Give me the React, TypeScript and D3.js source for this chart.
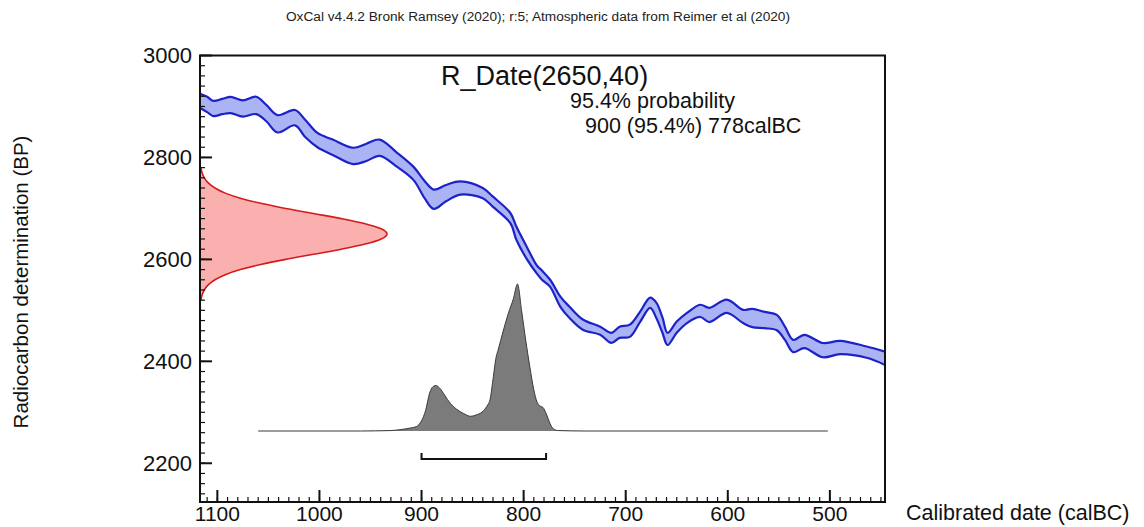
import React from 'react';
import * as d3 from 'd3';

// calibration curve (IntCal20): calBC, mean BP, 1 sigma
const curveYears = [1117, 1110, 1104, 1095, 1087, 1075, 1062, 1052, 1041, 1024, 1014, 1002, 987, 967, 954, 941, 925, 908, 897, 888, 876, 862, 840, 830, 813, 807, 797, 787, 782, 774, 764, 755, 742, 725, 714, 706, 696, 686, 676, 670, 664, 659, 650, 640, 627, 618, 601, 585, 576, 564, 552, 544, 536, 525, 507, 490, 464, 446];
const curveMean = [2911, 2904, 2896, 2900, 2903, 2896, 2902, 2887, 2866, 2878, 2857, 2834, 2820, 2803, 2810, 2819, 2797, 2769, 2737, 2718, 2730, 2740, 2730, 2713, 2681, 2651, 2613, 2580, 2569, 2553, 2517, 2496, 2472, 2460, 2446, 2457, 2460, 2487, 2515, 2500, 2471, 2444, 2467, 2485, 2499, 2491, 2508, 2488, 2485, 2481, 2476, 2455, 2430, 2439, 2422, 2427, 2418, 2406];
const curveSigma = [14, 15, 15, 15, 16, 16, 17, 16, 17, 15, 17, 14, 15, 16, 17, 16, 14, 13, 17, 19, 16, 13, 10, 10, 10, 13, 12, 8, 9, 7, 10, 11, 10, 8, 10, 11, 12, 10, 10, 15, 15, 12, 11, 10, 12, 14, 13, 13, 18, 16, 15, 13, 12, 13, 14, 13, 11, 13];

// radiocarbon date R_Date(2650,40): BP and relative likelihood
const rDateBP = [2780, 2770, 2760, 2750, 2740, 2730, 2720, 2710, 2700, 2690, 2680, 2670, 2660, 2650, 2640, 2630, 2620, 2610, 2600, 2590, 2580, 2570, 2560, 2550, 2540, 2530, 2520];
const rDateDensity = [0.005, 0.011, 0.023, 0.044, 0.08, 0.135, 0.216, 0.325, 0.458, 0.607, 0.755, 0.883, 0.969, 1, 0.969, 0.883, 0.755, 0.607, 0.458, 0.325, 0.216, 0.135, 0.08, 0.044, 0.023, 0.011, 0.005];

// calibrated probability distribution (relative)
const probYears = [1060, 960, 930, 920, 911, 905, 900, 896, 892, 889, 886, 882, 877, 872, 866, 859, 852, 846, 839, 835, 833, 830, 827, 825, 820, 815, 810, 806, 802, 798, 794, 790, 787, 784, 781, 778, 774, 771, 766, 740, 502];
const probValues = [0, 0, 0.003, 0.01, 0.02, 0.03, 0.07, 0.14, 0.26, 0.3, 0.31, 0.29, 0.24, 0.19, 0.15, 0.12, 0.1, 0.11, 0.14, 0.18, 0.21, 0.35, 0.5, 0.55, 0.68, 0.8, 0.9, 1, 0.82, 0.62, 0.44, 0.28, 0.2, 0.17, 0.16, 0.12, 0.05, 0.015, 0.003, 0, 0];

// 95.4% range
const rangeFrom = 900;
const rangeTo = 778;

const xTicks = [1100, 1000, 900, 800, 700, 600, 500];
const yTicks = [2200, 2400, 2600, 2800, 3000];

const titleText = 'OxCal v4.4.2 Bronk Ramsey (2020); r:5; Atmospheric data from Reimer et al (2020)';
const font = 'Liberation Sans, Arial, sans-serif';

export default function App() {
  const W = 1144, H = 527;
  const left = 200, right = 885, top = 55.5, bottom = 502;

  const x = d3.scaleLinear().domain([1117, 446]).range([left, right]);
  const y = d3.scaleLinear().domain([2124, 3000]).range([bottom, top]);

  // calibration band
  const pts = curveYears.map((yr, i) => ({ yr, hi: curveMean[i] + curveSigma[i], lo: curveMean[i] - curveSigma[i] }));
  const band = d3.area<any>().x(d => x(d.yr)).y0(d => y(d.lo)).y1(d => y(d.hi)).curve(d3.curveCatmullRom.alpha(0.5));
  const hiLine = d3.line<any>().x(d => x(d.yr)).y(d => y(d.hi)).curve(d3.curveCatmullRom.alpha(0.5));
  const loLine = d3.line<any>().x(d => x(d.yr)).y(d => y(d.lo)).curve(d3.curveCatmullRom.alpha(0.5));

  // red likelihood along the y axis
  const rMax = 187;
  const rScale = d3.scaleLinear().domain([0, 1]).range([left, left + rMax]);
  const rPts = rDateBP.map((bp, i) => ({ bp, d: rDateDensity[i] }));
  const redArea = d3.area<any>().y(d => y(d.bp)).x0(left).x1(d => rScale(d.d)).curve(d3.curveMonotoneY);
  const redLine = d3.line<any>().y(d => y(d.bp)).x(d => rScale(d.d)).curve(d3.curveMonotoneY);

  // grey posterior
  const baseY = 431;
  const pScale = d3.scaleLinear().domain([0, 1]).range([baseY, baseY - 147]);
  const pPts = probYears.map((yr, i) => ({ yr, v: probValues[i] }));
  const probArea = d3.area<any>().x(d => x(d.yr)).y0(baseY).y1(d => pScale(d.v)).curve(d3.curveMonotoneX);
  const probLine = d3.line<any>().x(d => x(d.yr)).y(d => pScale(d.v)).curve(d3.curveMonotoneX);

  const xMinor = d3.range(450, 1117, 10);
  const yMinor = d3.range(2140, 3000, 20);
  const bracketY = 459;

  return (
    <svg width={W} height={H} style={{ position: 'absolute', left: 0, top: 0, background: '#fff' }} fontFamily={font}>
      <text x={286} y={21} fontSize={12} textLength={504} lengthAdjust="spacingAndGlyphs" fill="#222">{titleText}</text>

      {/* calibration curve */}
      <path d={band(pts) || ''} fill="#aab3f3" />
      <path d={hiLine(pts) || ''} fill="none" stroke="#1c22c8" strokeWidth={2.2} />
      <path d={loLine(pts) || ''} fill="none" stroke="#1c22c8" strokeWidth={2.2} />

      {/* radiocarbon date */}
      <path d={redArea(rPts) || ''} fill="#fbb0b0" />
      <path d={redLine(rPts) || ''} fill="none" stroke="#d41a1a" strokeWidth={1.6} />

      {/* posterior */}
      <path d={probArea(pPts) || ''} fill="#7b7b7b" />
      <path d={probLine(pPts) || ''} fill="none" stroke="#3a3a3a" strokeWidth={1} />

      {/* range bracket */}
      <path d={`M${x(rangeFrom)},${bracketY - 6}V${bracketY}H${x(rangeTo)}V${bracketY - 6}`} fill="none" stroke="#111" strokeWidth={2} />

      {/* frame */}
      <rect x={left} y={top} width={right - left} height={bottom - top} fill="none" stroke="#111" strokeWidth={2} />

      {/* ticks */}
      {yMinor.map(v => <line key={'ym' + v} x1={left} x2={left + 5} y1={y(v)} y2={y(v)} stroke="#111" strokeWidth={1.2} />)}
      {yTicks.map(v => <line key={'yt' + v} x1={left} x2={left + 12} y1={y(v)} y2={y(v)} stroke="#111" strokeWidth={2} />)}
      {xMinor.map(v => <line key={'xm' + v} x1={x(v)} x2={x(v)} y1={bottom} y2={bottom - 5} stroke="#111" strokeWidth={1.2} />)}
      {xTicks.map(v => <line key={'xt' + v} x1={x(v)} x2={x(v)} y1={bottom} y2={bottom - 12} stroke="#111" strokeWidth={2} />)}

      {yTicks.map(v => (
        <text key={'yl' + v} x={192} y={y(v)} dy="0.36em" fontSize={22} textAnchor="end" fill="#111">{v}</text>
      ))}
      {xTicks.map(v => (
        <text key={'xl' + v} x={x(v)} y={521} fontSize={21} textAnchor="middle" fill="#111">{v}</text>
      ))}

      <text x={906} y={520} fontSize={21.5} fill="#111">Calibrated date (calBC)</text>
      <text transform={`translate(28,282) rotate(-90)`} fontSize={20.5} textAnchor="middle" fill="#111">Radiocarbon determination (BP)</text>

      <text x={441} y={85} fontSize={27} fill="#111">R_Date(2650,40)</text>
      <text x={570} y={108} fontSize={21.5} fill="#111">95.4% probability</text>
      <text x={585} y={133} fontSize={21.5} fill="#111">900 (95.4%) 778calBC</text>
    </svg>
  );
}
